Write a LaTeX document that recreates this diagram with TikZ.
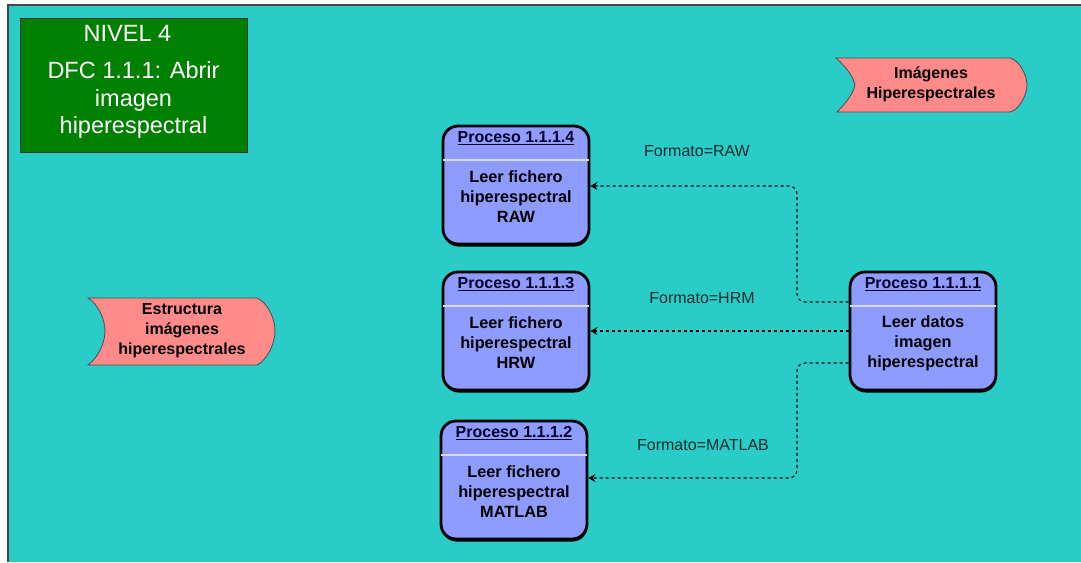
\documentclass[tikz,border=0pt]{standalone}
\usepackage{fontspec}
\setmainfont{Liberation Sans}
\usetikzlibrary{arrows.meta,shadows}
\definecolor{bgteal}{RGB}{42,204,200}
\definecolor{frameline}{RGB}{70,70,70}
\definecolor{titlegreen}{RGB}{0,128,0}
\definecolor{procfill}{RGB}{143,156,255}
\definecolor{flagpink}{RGB}{255,138,138}
\definecolor{sepline}{RGB}{215,215,230}
\definecolor{labeltext}{RGB}{20,45,45}

\tikzset{
  procbox/.style={draw=black, line width=2.8pt, fill=procfill, rounded corners=15pt,
    minimum width=146pt, minimum height=118pt, inner sep=0pt,
    drop shadow={shadow xshift=0.5pt, shadow yshift=-2.5pt, fill=black, opacity=1}},
  prochead/.style={font=\fontsize{16}{18}\selectfont\bfseries, text=black!85!blue, inner sep=0pt},
  procbody/.style={font=\fontsize{16.3}{20}\selectfont\bfseries, align=center, inner sep=0pt},
  sepstyle/.style={draw=sepline, line width=2.5pt, shorten <=1.4pt, shorten >=1.4pt},
  flagbox/.style={fill=flagpink, draw=black!70, line width=0.8pt},
  flagtext/.style={font=\fontsize{16}{20}\selectfont\bfseries, align=center, inner sep=0pt},
  flow/.style={draw=black, line width=1.1pt, dash pattern=on 3pt off 3pt, rounded corners=8pt,
    -{Stealth[length=7pt,width=8pt,inset=2.5pt]}},
  flowlabel/.style={font=\fontsize{16}{18}\selectfont, text=labeltext, inner sep=0pt},
  titletext/.style={font=\fontsize{23.5}{27.5}\selectfont, text=white, align=center, inner sep=0pt},
}

\newcommand\procnode[5]{%
  \node[procbox] (#1) at (#2,#3) {};
  \node[prochead] (#1h) at ([yshift=47pt]#1.center) {\underline{#4}};
  \draw[sepstyle] ([yshift=25pt]#1.west) -- ([yshift=25pt]#1.east);
  \node[procbody] (#1b) at ([yshift=-12pt]#1.center) {#5};
}

\begin{document}
\begin{tikzpicture}[x=1pt,y=-1pt]
  % page and canvas
  \useasboundingbox (0,0) rectangle (1081,562);
  \fill[white] (0,0) rectangle (1081,562);
  \fill[bgteal] (8,5) rectangle (1081,562);
  \draw[frameline, line width=1.6pt] (8,562) -- (8,5) -- (1081,5);

  % title block
  \node[draw=black!80, line width=1pt, fill=titlegreen, minimum width=227pt, minimum height=134pt,
        inner sep=0pt] (title) at (133.5,85) {};
  \node[titletext] (titleA) at (127.5,33) {NIVEL 4};
  \node[titletext] (titleB) at (133.5,100) {DFC 1.1.1: Abrir\\imagen\\hiperespectral};

  % external entities
  \path[flagbox] (836,58) -- (1010,58)
     .. controls (1019,60) and (1027,75) .. (1027,85)
     .. controls (1027,95) and (1019,110) .. (1010,112)
     -- (837,112)
     .. controls (846,103) and (853,94) .. (855,85)
     .. controls (853,76) and (846,67) .. (836,58) -- cycle;
  \node[flagtext] (imgs) at (931,84) {Imágenes\\Hiperespectrales};

  \path[flagbox] (88,298) -- (257,298)
     .. controls (267,302) and (275,318) .. (275,331)
     .. controls (275,344) and (267,360) .. (257,365)
     -- (88,365)
     .. controls (98,358) and (105,343) .. (105,331)
     .. controls (105,319) and (98,304) .. (88,298) -- cycle;
  \node[flagtext] (estr) at (182,331) {Estructura\\imágenes\\hiperespectrales};

  % processes
  \procnode{p4}{516}{185}{Proceso 1.1.1.4}{Leer fichero\\hiperespectral\\RAW}
  \procnode{p3}{516}{331}{Proceso 1.1.1.3}{Leer fichero\\hiperespectral\\HRW}
  \procnode{p2}{514}{480}{Proceso 1.1.1.2}{Leer fichero\\hiperespectral\\MATLAB}
  \procnode{p1}{923}{331}{Proceso 1.1.1.1}{Leer datos\\imagen\\hiperespectral}

  % data flows
  \draw[flow] ([yshift=29pt]p1.west) -- (797,302) |- ([yshift=-1pt]p4.east);
  \draw[flow] (p1.west) -- (p3.east);
  \draw[flow] ([yshift=-32pt]p1.west) -- (797,363) |- ([yshift=2pt]p2.east);

  \node[flowlabel] (lraw) at (697,151) {Formato=RAW};
  \node[flowlabel] (lhrm) at (702,298) {Formato=HRM};
  \node[flowlabel] (lmat) at (703,445) {Formato=MATLAB};
\end{tikzpicture}
\end{document}
